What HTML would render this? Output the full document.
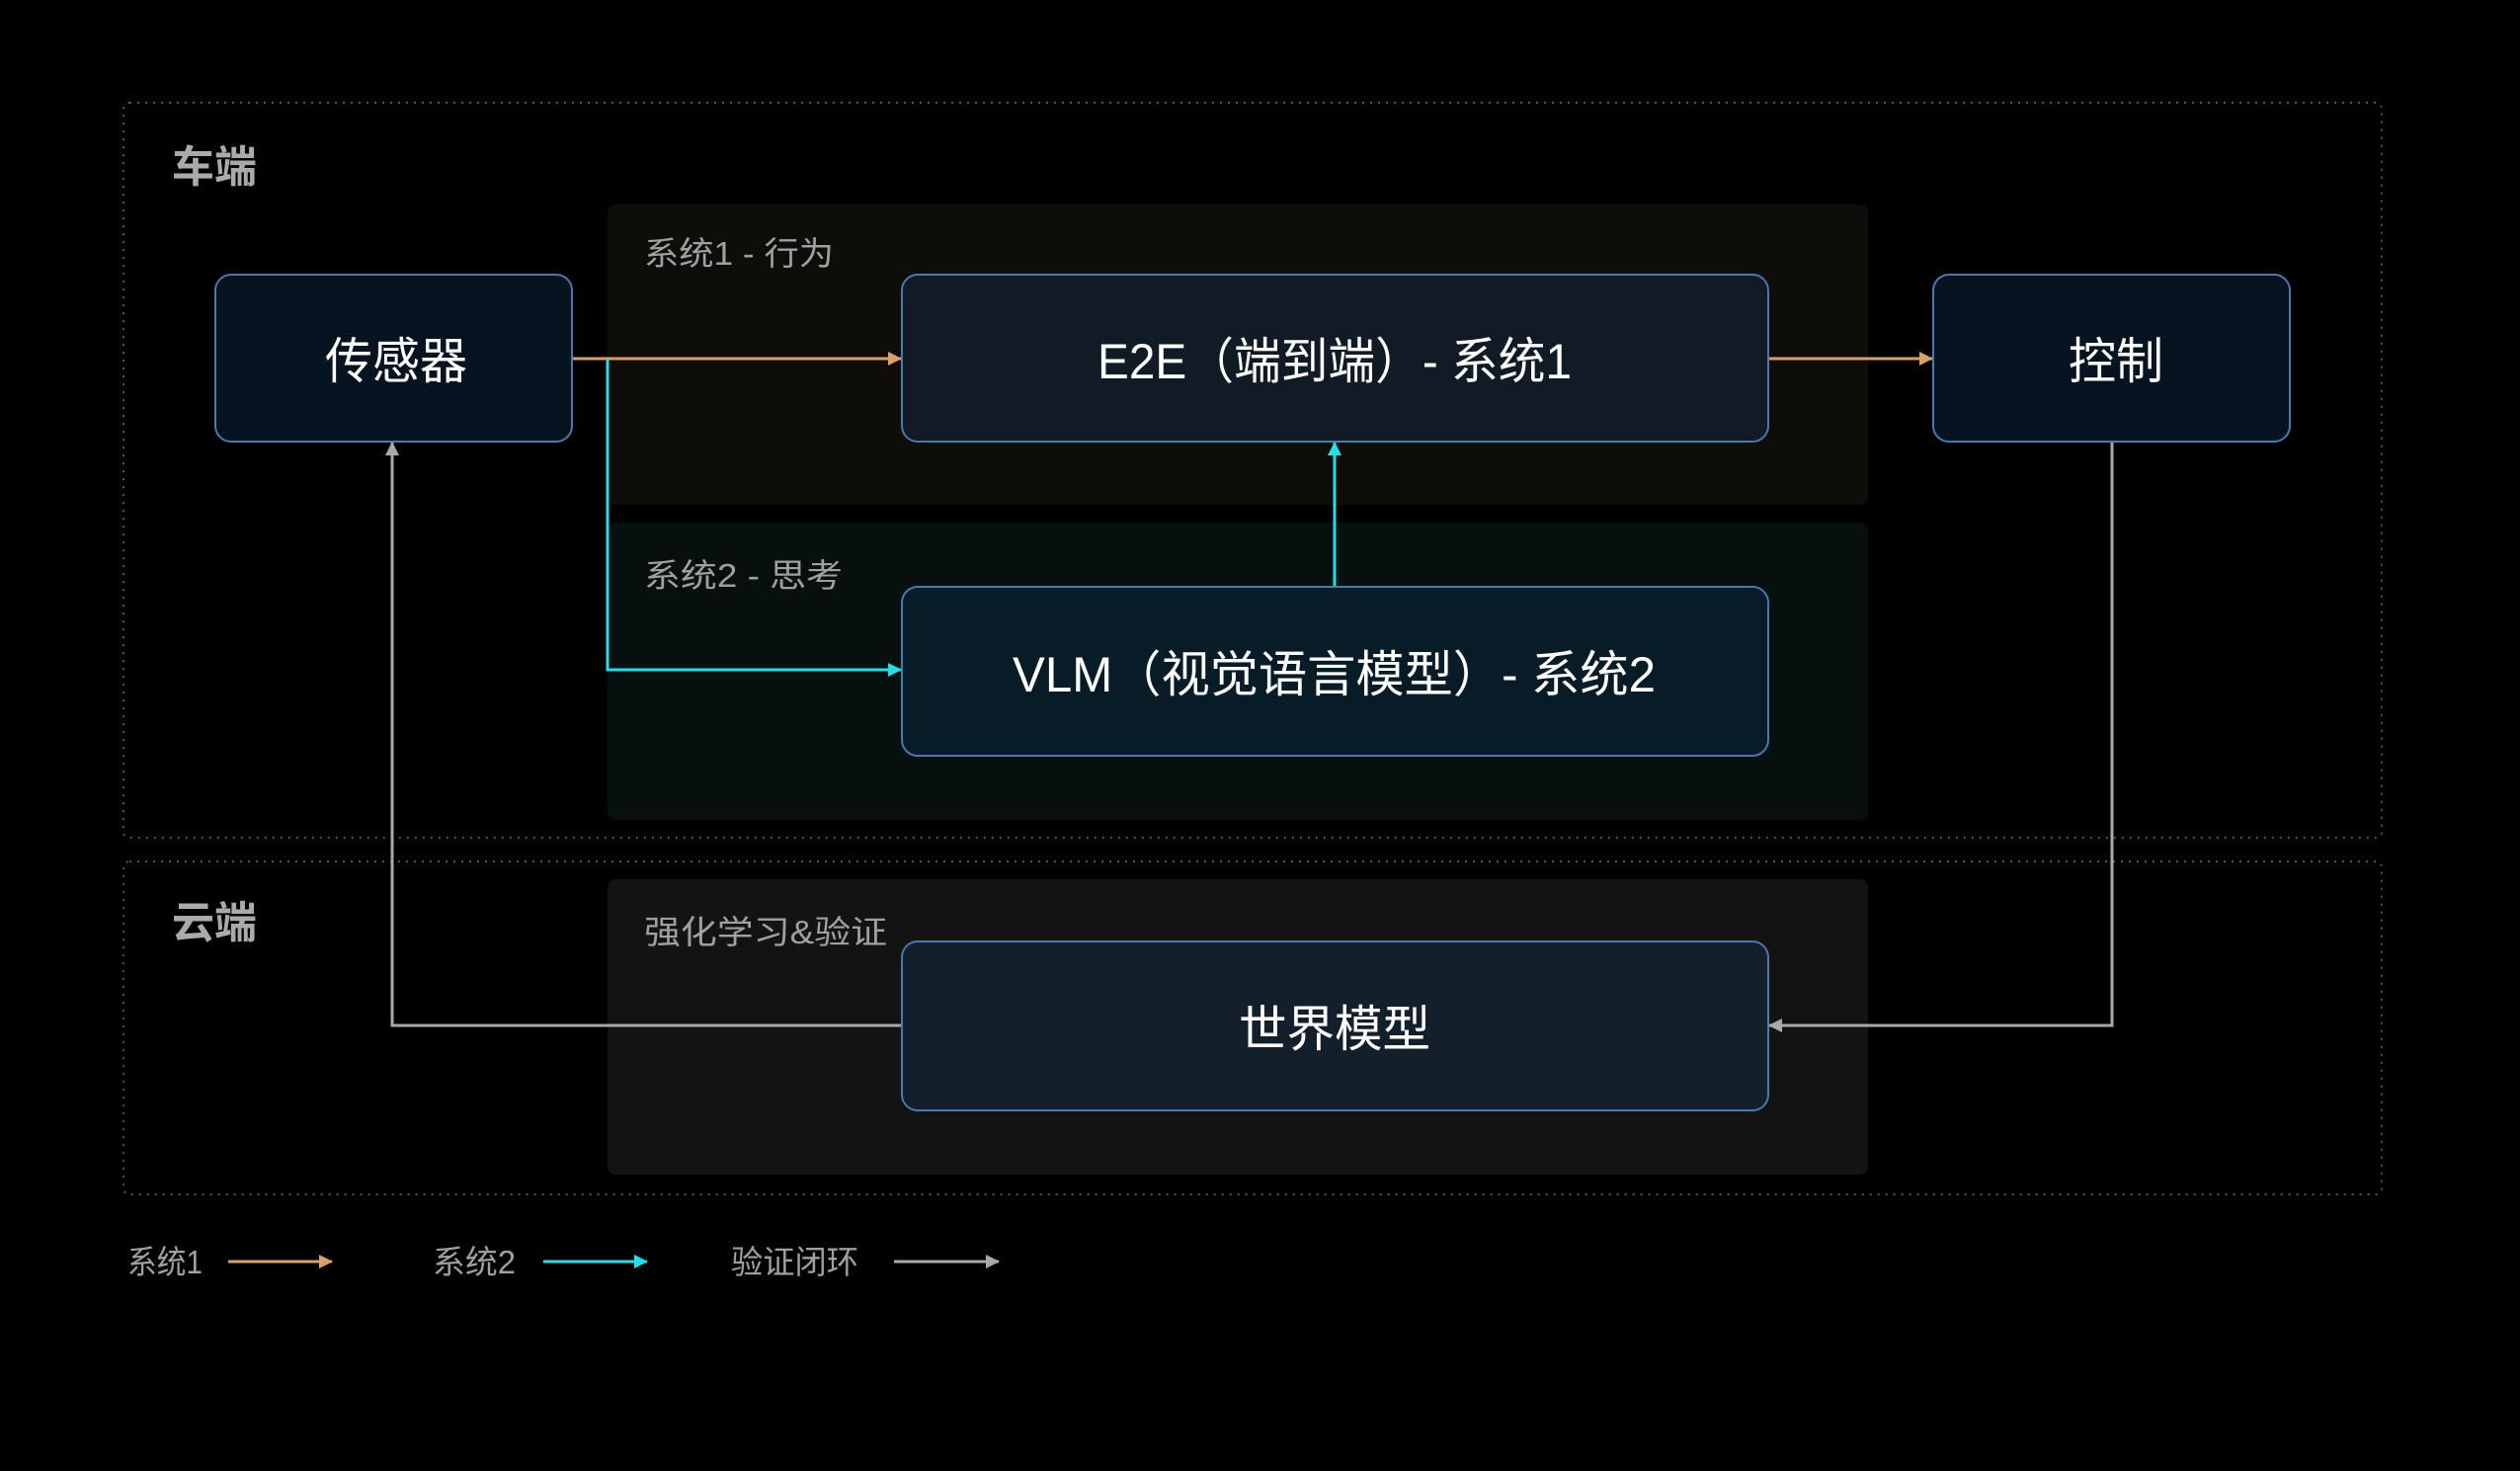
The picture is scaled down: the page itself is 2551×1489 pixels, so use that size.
<!DOCTYPE html>
<html><head><meta charset="utf-8"><style>
html,body{margin:0;padding:0;background:#000;}
svg{display:block;}
text{font-family:"Liberation Sans","Noto Sans CJK SC",sans-serif;}
</style></head><body>
<svg width="2551" height="1489" viewBox="0 0 2551 1489" xmlns="http://www.w3.org/2000/svg">
<defs>
<marker id="ao" markerWidth="14" markerHeight="14" refX="13" refY="7" orient="auto" markerUnits="userSpaceOnUse"><path d="M0,0 L14,7 L0,14 z" fill="#d9a06a"/></marker>
<marker id="ac" markerWidth="14" markerHeight="14" refX="13" refY="7" orient="auto" markerUnits="userSpaceOnUse"><path d="M0,0 L14,7 L0,14 z" fill="#22e0e8"/></marker>
<marker id="ag" markerWidth="14" markerHeight="14" refX="13" refY="7" orient="auto" markerUnits="userSpaceOnUse"><path d="M0,0 L14,7 L0,14 z" fill="#aaaaaa"/></marker>
</defs>
<rect width="2551" height="1489" fill="#000"/>
<rect x="125" y="104" width="2286" height="744" rx="6" fill="none" stroke="#555" stroke-width="2" stroke-dasharray="2 6"/>
<rect x="125" y="872" width="2286" height="337" rx="6" fill="none" stroke="#555" stroke-width="2" stroke-dasharray="2 6"/>
<rect x="615" y="207" width="1276" height="304" rx="8" fill="#0f0d0a"/>
<rect x="615" y="529" width="1276" height="301" rx="8" fill="#06100f"/>
<rect x="615" y="890" width="1276" height="299" rx="8" fill="#131313"/>
<text x="174" y="184" font-size="44" font-weight="bold" fill="#aaaaaa" textLength="86" lengthAdjust="spacingAndGlyphs">车端</text>
<text x="174" y="949" font-size="44" font-weight="bold" fill="#aaaaaa" textLength="86" lengthAdjust="spacingAndGlyphs">云端</text>
<text x="652" y="268" font-size="33" fill="#a0a0a0" textLength="192" lengthAdjust="spacingAndGlyphs">系统1 - 行为</text>
<text x="652" y="594" font-size="33" fill="#a0a0a0" textLength="201" lengthAdjust="spacingAndGlyphs">系统2 - 思考</text>
<text x="652" y="955" font-size="33" fill="#a0a0a0" textLength="246" lengthAdjust="spacingAndGlyphs">强化学习&amp;验证</text>
<line x1="579" y1="363" x2="912" y2="363" stroke="#d9a06a" stroke-width="3" marker-end="url(#ao)"/>
<polyline points="615,363 615,678 912,678" fill="none" stroke="#22e0e8" stroke-width="3" marker-end="url(#ac)"/>
<line x1="1351" y1="594" x2="1351" y2="448" stroke="#22e0e8" stroke-width="3" marker-end="url(#ac)"/>
<line x1="1790" y1="363" x2="1956" y2="363" stroke="#d9a06a" stroke-width="3" marker-end="url(#ao)"/>
<polyline points="2138,447 2138,1038 1791,1038" fill="none" stroke="#aaaaaa" stroke-width="3" marker-end="url(#ag)"/>
<polyline points="913,1038 397,1038 397,448" fill="none" stroke="#aaaaaa" stroke-width="3" marker-end="url(#ag)"/>
<rect x="218" y="278" width="361" height="169" rx="16" fill="#061320" stroke="#4a78b0" stroke-width="2"/>
<rect x="913" y="278" width="877" height="169" rx="16" fill="#111b26" stroke="#4a78b0" stroke-width="2"/>
<rect x="1957" y="278" width="361" height="169" rx="16" fill="#061320" stroke="#4a78b0" stroke-width="2"/>
<rect x="913" y="594" width="877" height="171" rx="16" fill="#071c27" stroke="#4a78b0" stroke-width="2"/>
<rect x="913" y="953" width="877" height="171" rx="16" fill="#13202c" stroke="#4a78b0" stroke-width="2"/>
<text x="329" y="383" font-size="50" fill="#fff" textLength="144" lengthAdjust="spacingAndGlyphs">传感器</text>
<text x="1111" y="383" font-size="50" fill="#fff" textLength="480" lengthAdjust="spacingAndGlyphs">E2E（端到端）- 系统1</text>
<text x="2094" y="383" font-size="50" fill="#fff" textLength="96" lengthAdjust="spacingAndGlyphs">控制</text>
<text x="1025" y="700" font-size="50" fill="#fff" textLength="651" lengthAdjust="spacingAndGlyphs">VLM（视觉语言模型）- 系统2</text>
<text x="1254" y="1059" font-size="50" fill="#fff" textLength="194" lengthAdjust="spacingAndGlyphs">世界模型</text>
<text x="129" y="1289" font-size="33" fill="#a0a0a0" textLength="76" lengthAdjust="spacingAndGlyphs">系统1</text>
<line x1="231" y1="1277" x2="336" y2="1277" stroke="#d9a06a" stroke-width="3" marker-end="url(#ao)"/>
<text x="438" y="1289" font-size="33" fill="#a0a0a0" textLength="84" lengthAdjust="spacingAndGlyphs">系统2</text>
<line x1="550" y1="1277" x2="655" y2="1277" stroke="#22e0e8" stroke-width="3" marker-end="url(#ac)"/>
<text x="740" y="1289" font-size="33" fill="#a0a0a0" textLength="129" lengthAdjust="spacingAndGlyphs">验证闭环</text>
<line x1="905" y1="1277" x2="1011" y2="1277" stroke="#aaaaaa" stroke-width="3" marker-end="url(#ag)"/>
</svg>
</body></html>
